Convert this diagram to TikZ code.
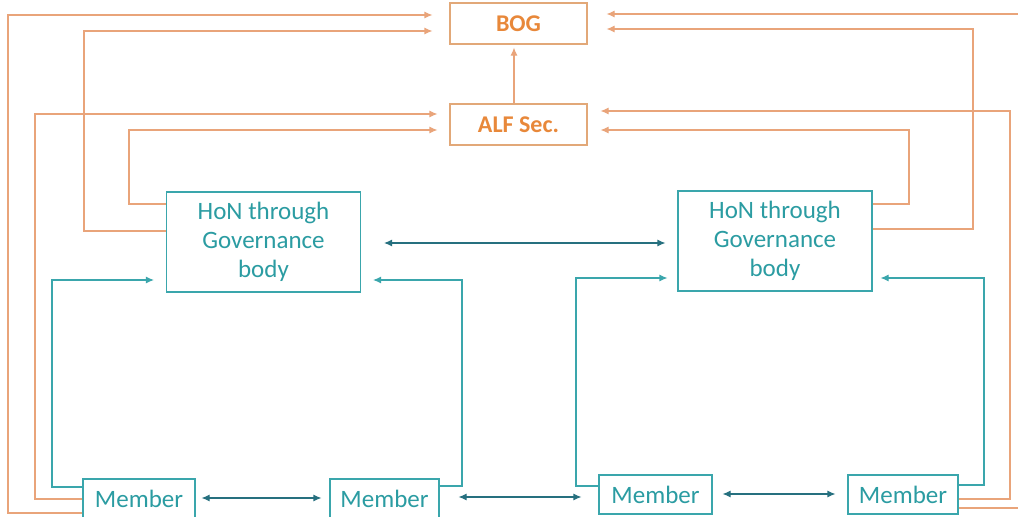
\documentclass[tikz,border=0pt]{standalone}
\usepackage{fontspec}
\setmainfont{Carlito}
\usetikzlibrary{arrows.meta,calc}
\definecolor{oline}{HTML}{E9A47A}
\definecolor{obox}{HTML}{E2A878}
\definecolor{otext}{HTML}{E8883A}
\definecolor{tline}{HTML}{3AA6AC}
\definecolor{ttext}{HTML}{2B9CA2}
\definecolor{dteal}{HTML}{26707F}
\begin{document}
\begin{tikzpicture}[x=1pt,y=-1pt,
  obx/.style={draw=obox,line width=1.1pt,inner sep=0pt,minimum width=137pt,minimum height=41pt,
    font=\fontsize{24}{28}\selectfont\bfseries,text=otext},
  hon/.style={draw=tline,line width=1.1pt,inner sep=0pt,minimum width=194pt,minimum height=100pt,
    align=center,font=\fontsize{25}{29}\selectfont,text=ttext},
  mem/.style={draw=tline,line width=1.1pt,inner sep=0pt,minimum height=39pt,
    font=\fontsize{25}{28}\selectfont,text=ttext},
  oarr/.style={draw=oline,line width=1.1pt,-{Latex[length=8pt,width=7pt]}},
  tarr/.style={draw=tline,line width=1.1pt,-{Latex[length=8pt,width=7pt]}},
  darr/.style={draw=dteal,line width=1.1pt,{Latex[length=8pt,width=7pt]}-{Latex[length=8pt,width=7pt]}}]
\useasboundingbox (0,0) rectangle (1018,517);
\clip (0,0) rectangle (1018,517);
\fill[white] (0,0) rectangle (1018,517);

\node[obx] (BOG) at (518.5,23.5) {BOG};
\node[obx] (ALF) at (518.5,124.5) {ALF Sec.};
\node[hon] (HL) at (263.5,242) {HoN through\\Governance\\body};
\node[hon] (HR) at (775,241) {HoN through\\Governance\\body};
\node[mem,minimum width=112pt] (M1) at (139,498.5) {Member};
\node[mem,minimum width=109pt] (M2) at (384.5,498.5) {Member};
\node[mem,minimum width=113pt] (M3) at (655.5,494.5) {Member};
\node[mem,minimum width=110pt] (M4) at (903,494.5) {Member};

% orange connectors
\draw[oarr,shorten >=17pt] (M1.west |- 0,513) -- (8,513) -- (8,15) -- (BOG.west |- 0,15);
\draw[oarr,shorten >=12pt] (M1.west |- 0,499) -- (35,499) -- (35,114) -- (ALF.west |- 0,114);
\draw[oarr,shorten >=17pt] (HL.west |- 0,231) -- (84,231) -- (84,31) -- (BOG.west |- 0,31);
\draw[oarr,shorten >=12pt] (HL.west |- 0,204) -- (129,204) -- (129,130) -- (ALF.west |- 0,130);
\draw[oarr,shorten >=19pt] (M4.east |- 0,508) -- (1030,508) -- (1030,14) -- (BOG.east |- 0,14);
\draw[oarr,shorten >=13pt] (M4.east |- 0,499) -- (1010,499) -- (1010,111) -- (ALF.east |- 0,111);
\draw[oarr,shorten >=19pt] (HR.east |- 0,229) -- (973,229) -- (973,29) -- (BOG.east |- 0,29);
\draw[oarr,shorten >=13pt] (HR.east |- 0,204) -- (909,204) -- (909,130) -- (ALF.east |- 0,130);
\draw[oarr,shorten >=3pt] (ALF.north -| 514,0) -- (BOG.south -| 514,0);

% teal connectors
\draw[tarr,shorten >=12pt] (M1.west |- 0,487) -- (52,487) -- (52,280) -- (HL.west |- 0,280);
\draw[tarr,shorten >=12pt] (M2.east |- 0,486) -- (462,486) -- (462,280) -- (HL.east |- 0,280);
\draw[tarr,shorten >=10pt] (M3.west |- 0,486) -- (576,486) -- (576,278) -- (HR.west |- 0,278);
\draw[tarr,shorten >=8pt] (M4.east |- 0,485) -- (984,485) -- (984,278) -- (HR.east |- 0,278);

% double arrows
\draw[darr,shorten <=6pt,shorten >=8pt] (M1.east |- 0,498) -- (M2.west |- 0,498);
\draw[darr,shorten <=19pt,shorten >=17pt] (M2.east |- 0,497) -- (M3.west |- 0,497);
\draw[darr,shorten <=10pt,shorten >=12pt] (M3.east |- 0,494) -- (M4.west |- 0,494);
\draw[darr,shorten <=23pt,shorten >=12pt] (HL.east |- 0,243) -- (HR.west |- 0,243);
\end{tikzpicture}
\end{document}
